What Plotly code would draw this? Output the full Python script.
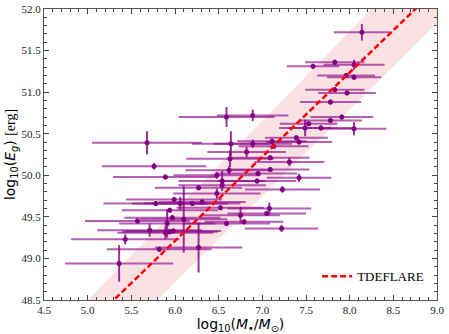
import plotly.graph_objects as go

# log10 black hole mass and its error
log_mass = [8.14, 7.58, 7.83, 8.05, 7.96, 8.05, 7.83, 7.97, 7.78, 7.91, 7.78, 7.53, 7.49, 7.67, 8.05, 7.39, 7.42,
	6.59, 6.89, 5.68, 6.64, 6.89, 7.13, 7.11, 5.76, 6.63, 6.82, 7.09, 7.31, 5.89, 6.62, 6.48, 6.95, 7.09,
	6.54, 6.94, 6.27, 6.48, 7.23, 5.99, 6.06, 6.20, 5.78, 5.94, 6.52, 7.08, 6.75, 7.05, 5.57, 6.10, 5.97,
	6.59, 6.79, 7.22, 5.91, 5.71, 5.89, 5.94, 5.98, 5.43, 5.82, 5.36, 6.27, 7.42, 6.31, 6.54]
log_mass_err = [0.32, 0.30, 0.34, 0.35, 0.33, 0.31, 0.34, 0.33, 0.35, 0.36, 0.36, 0.33, 0.30, 0.38, 0.37, 0.36, 0.38,
	0.55, 0.41, 0.63, 0.45, 0.45, 0.40, 0.40, 0.60, 0.50, 0.45, 0.45, 0.40, 0.60, 0.50, 0.50, 0.45, 0.45,
	0.50, 0.45, 0.50, 0.50, 0.43, 0.55, 0.55, 0.55, 0.60, 0.55, 0.50, 0.48, 0.45, 0.45, 0.60, 0.50, 0.55,
	0.50, 0.45, 0.42, 0.55, 0.60, 0.55, 0.55, 0.55, 0.62, 0.60, 0.62, 0.50, 0.37, 0.50, 0.50]

# log10 energy and its error
log_energy = [51.72, 51.31, 51.36, 51.33, 51.20, 51.18, 51.03, 50.99, 50.88, 50.70, 50.66, 50.62, 50.57, 50.57, 50.56, 50.45, 50.40,
	50.70, 50.72, 50.39, 50.38, 50.38, 50.35, 50.41, 50.11, 50.20, 50.28, 50.21, 50.16, 49.98, 50.06, 50.00, 50.02, 50.07,
	49.93, 49.93, 49.85, 49.78, 49.83, 49.71, 49.66, 49.66, 49.66, 49.58, 49.61, 49.60, 49.52, 49.54, 49.45, 49.47, 49.49,
	49.42, 49.44, 49.36, 49.42, 49.34, 49.31, 49.32, 49.33, 49.23, 49.11, 48.94, 49.13, 49.97, 49.68, 49.88]
log_energy_err = [0.10, 0.03, 0.03, 0.06, 0.03, 0.03, 0.03, 0.03, 0.03, 0.03, 0.03, 0.03, 0.10, 0.03, 0.08, 0.03, 0.03,
	0.12, 0.07, 0.14, 0.15, 0.05, 0.03, 0.03, 0.04, 0.10, 0.06, 0.03, 0.05, 0.03, 0.05, 0.04, 0.03, 0.03,
	0.12, 0.03, 0.03, 0.06, 0.04, 0.03, 0.08, 0.03, 0.03, 0.03, 0.03, 0.07, 0.10, 0.03, 0.03, 0.40, 0.03,
	0.03, 0.03, 0.04, 0.17, 0.08, 0.08, 0.03, 0.03, 0.06, 0.03, 0.22, 0.30, 0.05, 0.03, 0.03]

# TDEFLARE relation and its band (values at the two ends of the mass axis)
tde_mass = [4.5, 9.0]
tde_energy = [47.69, 52.25]
band_upper = [47.96, 52.81]
band_lower = [47.15, 51.83]

purple = 'rgb(128, 0, 128)'

fig = go.Figure()

fig.add_trace(go.Scatter(x=tde_mass, y=band_lower, mode='lines', line=dict(width=0),
	hoverinfo='skip', showlegend=False))
fig.add_trace(go.Scatter(x=tde_mass, y=band_upper, mode='lines', line=dict(width=0),
	fill='tonexty', fillcolor='rgba(250, 200, 205, 0.55)', hoverinfo='skip', showlegend=False))

fig.add_trace(go.Scatter(
	x=log_mass, y=log_energy, mode='markers', showlegend=False,
	marker=dict(color=purple, size=5),
	error_x=dict(type='data', array=log_mass_err, color='rgba(140, 10, 140, 0.65)', thickness=2, width=0),
	error_y=dict(type='data', array=log_energy_err, color='rgba(128, 0, 128, 0.8)', thickness=2, width=0)
))

fig.add_trace(go.Scatter(x=tde_mass, y=tde_energy, mode='lines', name='TDEFLARE',
	line=dict(color='red', width=2.5, dash='6px,3px')))

axis_common = dict(
	showgrid=False, zeroline=False,
	showline=True, linecolor='#555', linewidth=1.3, mirror='ticks',
	ticks='inside', ticklen=5, tickwidth=1, tickcolor='#444',
	dtick=0.5, tickformat='.1f',
	tickfont=dict(family='Liberation Serif', size=11, color='#222'),
	minor=dict(ticks='inside', ticklen=3, tickcolor='#444', dtick=0.1),
)

fig.update_xaxes(range=[4.5, 9.0], tick0=4.5, **axis_common,
	title=dict(text='log<sub>10</sub>(<i>M</i><sub>•</sub>/<i>M</i><sub>⊙</sub>)',
		font=dict(family='DejaVu Sans', size=14, color='black'), standoff=1))
fig.update_yaxes(range=[48.5, 52.0], tick0=48.5, **axis_common,
	title=dict(text='log<sub>10</sub>(<i>E<sub>g</sub></i>) <span style="font-family:Liberation Serif">[erg]</span>',
		font=dict(family='DejaVu Sans', size=14, color='black'), standoff=2))

fig.update_layout(
	width=449, height=334,
	margin=dict(l=44, r=12, t=9, b=34, autoexpand=False),
	plot_bgcolor='white', paper_bgcolor='white',
	legend=dict(x=0.98, y=0.03, xanchor='right', yanchor='bottom',
		bgcolor='rgba(0,0,0,0)', font=dict(family='Liberation Serif', size=13, color='black'))
)

# drop the browser's default body margin so the figure sits at the page corner
fig.write_html("out.html", config={'displayModeBar': False},
	post_script="document.body.style.margin='0';")
